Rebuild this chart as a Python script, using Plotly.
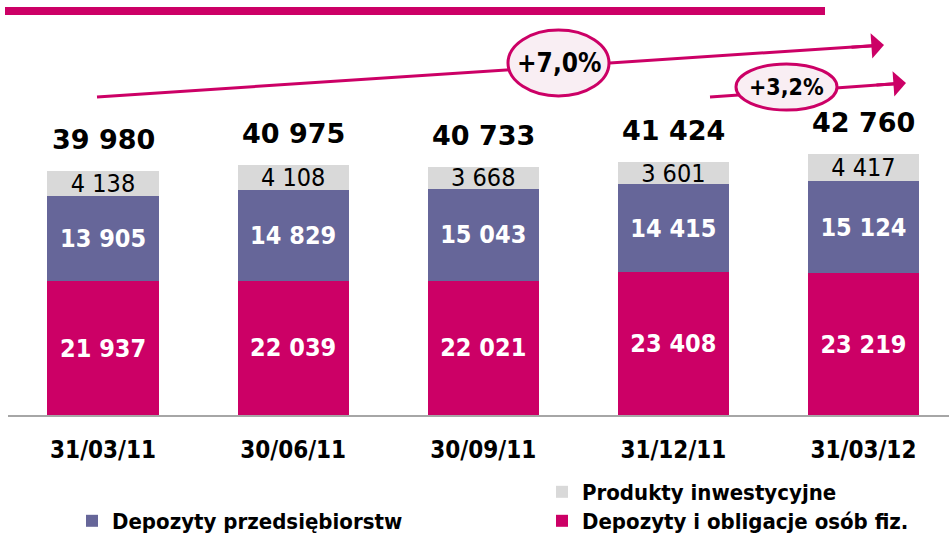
import plotly.graph_objects as go

# ---------------- data ----------------
categories = ["31/03/11", "30/06/11", "30/09/11", "31/12/11", "31/03/12"]
osob_fiz = [21937, 22039, 22021, 23408, 23219]          # Depozyty i obligacje osób fiz.
przedsiebiorstw = [13905, 14829, 15043, 14415, 15124]  # Depozyty przedsiębiorstw
inwestycyjne = [4138, 4108, 3668, 3601, 4417]          # Produkty inwestycyjne
totals = [39980, 40975, 40733, 41424, 42760]
growth_labels = ["+7,0%", "+3,2%"]

MAGENTA = "#CC0066"
BLUE = "#666699"
GRAY = "#D9D9D9"
COND = "DejaVu Sans Condensed, DejaVu Sans, sans-serif"
WIDE = "DejaVu Sans, Verdana, sans-serif"

# plot-area geometry (pixels)
L, W = 8, 941
T, H = 0, 415
def px(x):
    return (x - L) / W
def py(y):
    return (T + H - y) / H

fig = go.Figure()
fig.add_trace(go.Bar(
    x=categories, y=osob_fiz, name="Depozyty i obligacje osób fiz.",
    marker=dict(color=MAGENTA, line=dict(width=0)), width=0.585,
    texttemplate="%{y:,.0f}", textposition="inside", insidetextanchor="middle",
    textangle=0, textfont=dict(color="white", family=COND, size=25, weight="bold"),
    legend="legend3",
))
fig.add_trace(go.Bar(
    x=categories, y=przedsiebiorstw, name="Depozyty przedsiębiorstw",
    marker=dict(color=BLUE, line=dict(width=0)), width=0.585,
    texttemplate="%{y:,.0f}", textposition="inside", insidetextanchor="middle",
    textangle=0, textfont=dict(color="white", family=COND, size=25, weight="bold"),
    legend="legend",
))
fig.add_trace(go.Bar(
    x=categories, y=inwestycyjne, name="Produkty inwestycyjne",
    marker=dict(color=GRAY, line=dict(width=0)), width=0.585,
    texttemplate="%{y:,.0f}", textposition="inside", insidetextanchor="middle",
    textangle=0, textfont=dict(color="black", family=COND, size=25),
    legend="legend2",
))

annotations = []
for c, t in zip(categories, totals):
    annotations.append(dict(
        x=c, y=t, xref="x", yref="y", text=f"{t:,}".replace(",", " "),
        showarrow=False, xanchor="center", yanchor="bottom", yshift=14,
        font=dict(family=WIDE, size=27, color="black", weight="bold"),
    ))

shapes = [
    # header band
    dict(type="rect", xref="paper", yref="paper", x0=px(5), x1=px(825), y0=py(15), y1=py(7),
         fillcolor=MAGENTA, line=dict(width=0), layer="above"),
    # growth arrows (line parts)
    dict(type="line", xref="paper", yref="paper", x0=px(97), y0=py(97), x1=px(872), y1=py(45.7),
         line=dict(color=MAGENTA, width=3), layer="above"),
    dict(type="line", xref="paper", yref="paper", x0=px(710), y0=py(97), x1=px(895), y1=py(83.8),
         line=dict(color=MAGENTA, width=3), layer="above"),
    # ellipses
    dict(type="circle", xref="paper", yref="paper", x0=px(508), x1=px(609), y0=py(96), y1=py(30),
         fillcolor="#F9EEF3", line=dict(color=MAGENTA, width=3), layer="above"),
    dict(type="circle", xref="paper", yref="paper", x0=px(736), x1=px(837), y0=py(110), y1=py(64),
         fillcolor="#F9EEF3", line=dict(color=MAGENTA, width=3), layer="above"),
]

# arrowheads
annotations.append(dict(x=px(884), y=py(45), ax=-34, ay=2.3, xref="paper", yref="paper",
                        axref="pixel", ayref="pixel", text="", showarrow=True, arrowhead=1,
                        arrowsize=1.4, arrowwidth=3, arrowcolor=MAGENTA))
annotations.append(dict(x=px(906), y=py(83), ax=-31, ay=2.2, xref="paper", yref="paper",
                        axref="pixel", ayref="pixel", text="", showarrow=True, arrowhead=1,
                        arrowsize=1.4, arrowwidth=3, arrowcolor=MAGENTA))
annotations.append(dict(x=px(558.5), y=py(63), xref="paper", yref="paper", text=growth_labels[0],
                        xanchor="center", yanchor="middle", showarrow=False,
                        font=dict(family=COND, size=26, color="black", weight="bold")))
annotations.append(dict(x=px(786.5), y=py(87), xref="paper", yref="paper", text=growth_labels[1],
                        xanchor="center", yanchor="middle", showarrow=False,
                        font=dict(family=COND, size=23, color="black", weight="bold")))

legend_style = dict(orientation="h", xanchor="left", yanchor="middle",
                    font=dict(family=COND, size=22, color="black", weight="bold"),
                    bgcolor="rgba(0,0,0,0)", itemwidth=30)

fig.update_layout(
    width=949, height=536,
    margin=dict(l=L, r=949 - L - W, t=T, b=536 - T - H, pad=0, autoexpand=False),
    paper_bgcolor="white", plot_bgcolor="white",
    barmode="stack", bargap=0.4,
    separators=", ",
    uniformtext=dict(minsize=25, mode="show"),
    showlegend=True,
    legend=dict(x=px(72), y=py(521), **legend_style),
    legend2=dict(x=px(542), y=py(492), **legend_style),
    legend3=dict(x=px(542), y=py(521), **legend_style),
    xaxis=dict(range=[-0.5, 4.45], showline=True, linecolor="#A6A6A6", linewidth=2,
               ticks="", showgrid=False, zeroline=False, ticklabelstandoff=12,
               tickfont=dict(family=COND, size=24, color="black", weight="bold")),
    yaxis=dict(range=[0, H / 0.0061], visible=False, showgrid=False, zeroline=False),
    shapes=shapes,
    annotations=annotations,
)

fig.write_html("out.html", config={"displayModeBar": False},
               post_script="document.body.style.margin='0';document.body.style.overflow='hidden';")
